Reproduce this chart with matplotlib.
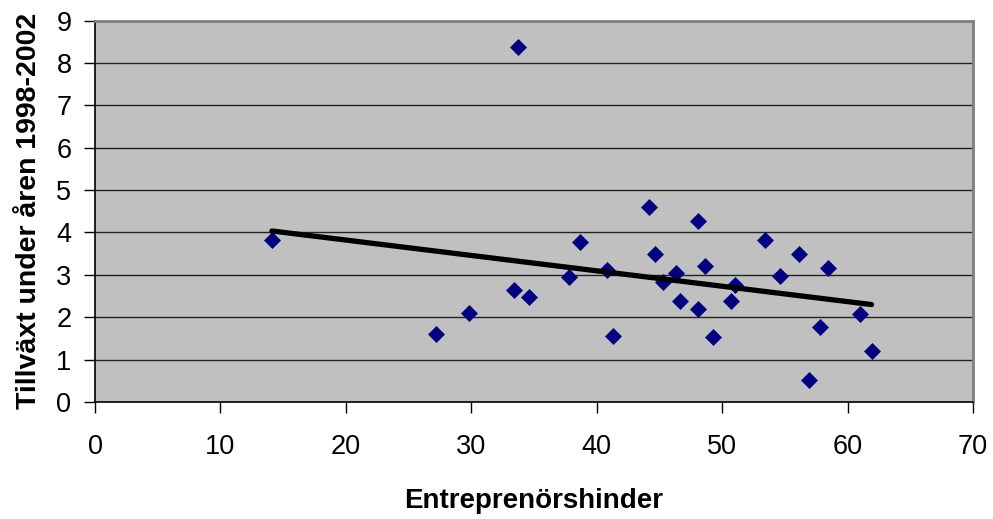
import matplotlib.pyplot as plt
import numpy as np

plt.rcParams['font.family'] = ['Liberation Sans', 'DejaVu Sans']

# Entreprenörshinder (x) och tillväxt 1998-2002 (y) per land
hinder = [14.1, 27.2, 29.8, 33.4, 33.7, 34.6, 37.8, 38.7, 40.8, 41.3,
          44.2, 44.6, 45.3, 46.3, 46.6, 48.1, 48.1, 48.6, 49.3, 50.7,
          51.0, 53.4, 54.6, 56.1, 56.9, 57.8, 58.4, 61.0, 61.9]
tillvaxt = [3.83, 1.61, 2.10, 2.65, 8.38, 2.47, 2.94, 3.77, 3.12, 1.55,
            4.59, 3.48, 2.84, 3.04, 2.38, 4.26, 2.20, 3.21, 1.53, 2.38,
            2.77, 3.83, 2.97, 3.50, 0.51, 1.76, 3.17, 2.08, 1.21]

x_ticks = [0, 10, 20, 30, 40, 50, 60, 70]
y_ticks = [0, 1, 2, 3, 4, 5, 6, 7, 8, 9]

x = np.array(hinder)
y = np.array(tillvaxt)

fig = plt.figure(figsize=(9.93, 5.19), dpi=100)
ax = fig.add_axes([0.0957, 0.2254, 0.8843, 0.7351])
ax.set_facecolor('#c0c0c0')

# horisontella stödlinjer
for t in y_ticks[1:]:
    ax.axhline(t, color='#222222', lw=1.0, zorder=1)

ax.plot(x, y, linestyle='none', marker='D', ms=8.5, mfc='#000080',
        mec='#000080', mew=0.5, zorder=3)

# linjär trendlinje (minsta kvadrat)
k, m = np.polyfit(x, y, 1)
xs = np.array([x.min(), x.max()])
ax.plot(xs, k * xs + m, color='black', lw=3.8, solid_capstyle='round',
        zorder=4)

ax.set_xlim(0, 70)
ax.set_ylim(0, 9)
ax.set_xticks(x_ticks)
ax.set_yticks(y_ticks)
ax.tick_params(axis='both', direction='out', length=8, width=1,
               labelsize=19.5, color='black')
ax.tick_params(axis='x', pad=15)
ax.tick_params(axis='y', pad=9)

for side in ['top', 'right']:
    ax.spines[side].set_color('#808080')
    ax.spines[side].set_linewidth(2.0)
for side in ['left', 'bottom']:
    ax.spines[side].set_color('black')
    ax.spines[side].set_linewidth(1.2)

ax.set_xlabel('Entreprenörshinder', fontsize=20, fontweight='bold',
              labelpad=20)
ax.set_ylabel('Tillväxt under åren 1998-2002', fontsize=20.5,
              fontweight='bold', labelpad=10)

fig.savefig('out.png', dpi=100)
